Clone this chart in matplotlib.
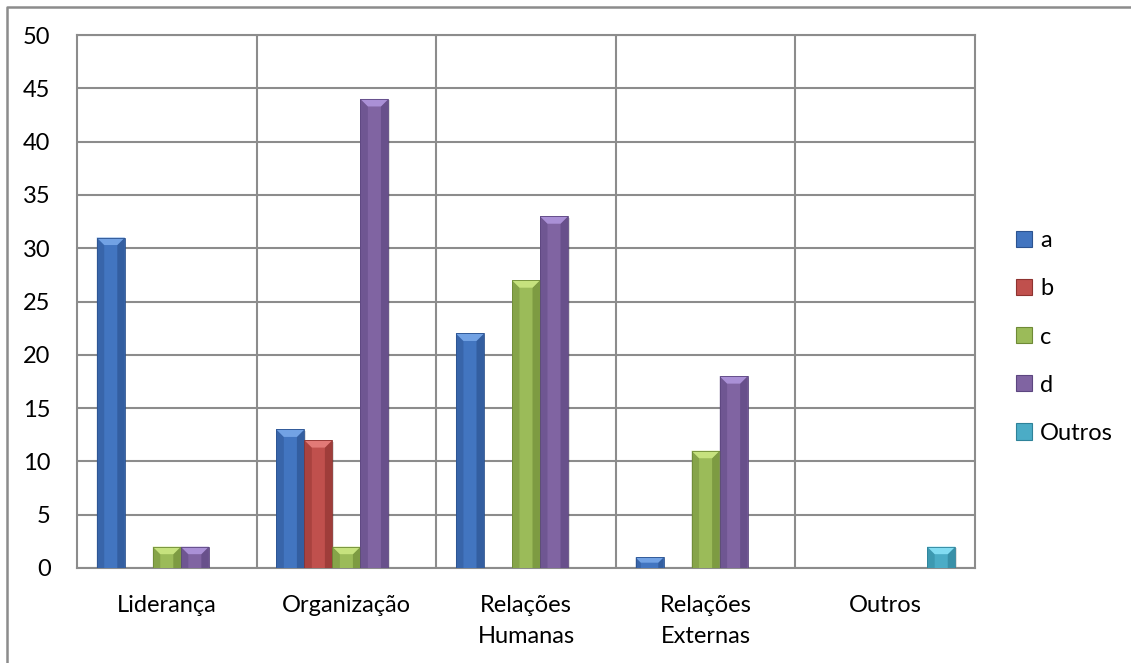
import matplotlib
matplotlib.use("Agg")
import matplotlib.pyplot as plt
from matplotlib.patches import Polygon, Rectangle
from matplotlib.lines import Line2D
import numpy as np

plt.rcParams['font.family'] = ['Lato', 'DejaVu Sans']

categories = ["Liderança", "Organização", "Relações\nHumanas", "Relações\nExternas", "Outros"]
series_names = ["a", "b", "c", "d", "Outros"]
vals_a = [31, 13, 22, 1, 0]
vals_b = [0, 12, 0, 0, 0]
vals_c = [2, 2, 27, 11, 0]
vals_d = [2, 44, 33, 18, 0]
vals_outros = [0, 0, 0, 0, 2]
series_values = [vals_a, vals_b, vals_c, vals_d, vals_outros]
yticks = [0, 5, 10, 15, 20, 25, 30, 35, 40, 45, 50]

body = ["#4275C0", "#C0504D", "#9BBB59", "#8064A2", "#4BACC6"]
light = ["#72A2E4", "#E27A77", "#C6E27E", "#AA90D6", "#82DCF2"]
dark = ["#2C5390", "#8E3330", "#6E8A36", "#5C4680", "#2E8299"]

W, H = 1131, 663
fig = plt.figure(figsize=(W / 100, H / 100), dpi=100)
L, R, T, B = 77, 975, 35, 568
ax = fig.add_axes([L / W, 1 - B / H, (R - L) / W, (B - T) / H])

grid_c = "#8C8C8C"
fs = 17.0
x = np.arange(len(categories))
bw = 0.156
nser = len(series_names)
ax.set_xlim(-0.5, len(categories) - 0.5)
ax.set_ylim(0, 50)

px_x = (R - L) / len(categories)  # pixels per x unit
px_y = (B - T) / 50.0
bev = 7.5

for i, (name, vals) in enumerate(zip(series_names, series_values)):
    offs = (i - (nser - 1) / 2) * bw
    bars = ax.bar(x + offs, vals, width=bw, color=body[i], edgecolor="none",
                  zorder=3, label=name)
    for p in bars:
        h = p.get_height()
        if h <= 0:
            continue
        x0, w = p.get_x(), p.get_width()
        hp = h * px_y
        wp = w * px_x
        d = min(bev, hp / 2, wp / 2)
        dx = d / px_x
        dy = d / px_y
        x1 = x0 + w
        # shadow
        ax.add_patch(Rectangle((x0 + 1.5 / px_x, 0.0), w, h - 1.5 / px_y,
                               facecolor="#000000", alpha=0.12, zorder=2.5,
                               edgecolor="none"))
        # left side
        ax.add_patch(Polygon([(x0, 0), (x0, h), (x0 + dx, h - dy), (x0 + dx, 0)],
                             closed=True, facecolor=dark[i], alpha=0.45,
                             edgecolor="none", zorder=3.1))
        # right side
        ax.add_patch(Polygon([(x1, 0), (x1, h), (x1 - dx, h - dy), (x1 - dx, 0)],
                             closed=True, facecolor=dark[i], alpha=0.65,
                             edgecolor="none", zorder=3.1))
        # top
        ax.add_patch(Polygon([(x0, h), (x1, h), (x1 - dx, h - dy), (x0 + dx, h - dy)],
                             closed=True, facecolor=light[i], edgecolor="none",
                             zorder=3.2))
        # outline
        ax.add_patch(Rectangle((x0, 0), w, h, facecolor="none",
                               edgecolor=dark[i], lw=0.6, zorder=3.3))

ax.set_yticks(yticks)
ax.set_xticks(x)
ax.set_xticklabels(categories, fontsize=fs, linespacing=1.6, va="top")
ax.tick_params(axis="x", length=0, pad=19.5)
ax.tick_params(axis="y", length=0, pad=19, labelsize=fs)
ax.yaxis.grid(True, color=grid_c, lw=1.5, zorder=0)
for xb in np.arange(0.5, len(categories) - 0.5, 1):
    ax.axvline(xb, color=grid_c, lw=1.5, zorder=0)
for s in ax.spines.values():
    s.set_color(grid_c)
    s.set_linewidth(1.5)

# legend
handles = [Rectangle((0, 0), 1, 1, facecolor=body[i], edgecolor=dark[i], lw=0.8)
           for i in range(nser)]
leg = fig.legend(handles, series_names, loc="center left",
                 bbox_to_anchor=(1016 / W, 1 - 337 / H), frameon=False,
                 fontsize=fs, handlelength=0.68, handleheight=0.68,
                 handletextpad=0.35, labelspacing=1.15, borderpad=0,
                 borderaxespad=0)

# outer border
fig.add_artist(Line2D([7 / W, 7 / W, 1.0], [0.0, 1 - 6.5 / H, 1 - 6.5 / H],
                      transform=fig.transFigure, color=grid_c, lw=1.8))

fig.savefig("out.png", dpi=100, facecolor="white")
